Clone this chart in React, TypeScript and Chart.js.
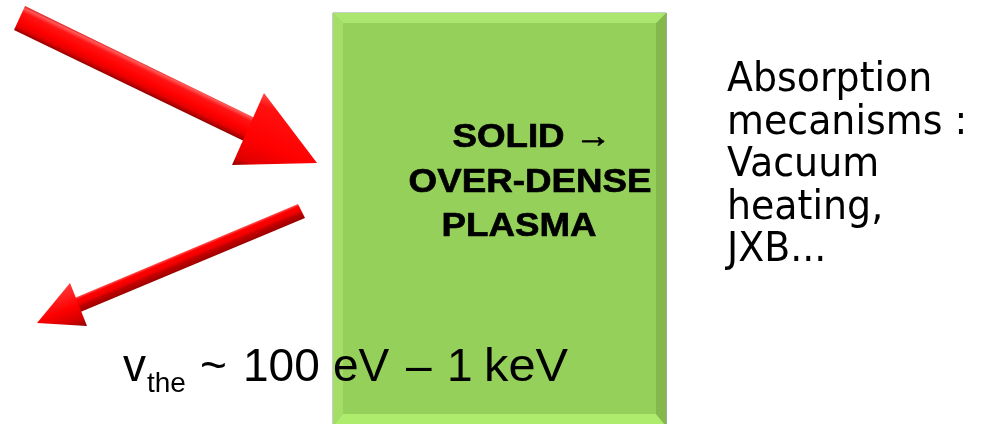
import React, { useEffect, useRef } from "react";
import { Chart, registerables } from "chart.js";

Chart.register(...registerables);

// ---- Data (diagram coordinates in a 983 x 424 value space) ----
const boxFace: number[][] = [[333, 13], [666, 13], [666, 426], [333, 426]];
const boxTopBevel: number[][] = [[333, 13], [666, 13], [656, 23], [343, 23]];
const boxLeftBevel: number[][] = [[333, 13], [343, 23], [343, 414], [333, 426]];
const boxRightBevel: number[][] = [[666, 13], [666, 426], [656, 414], [656, 23]];
const boxBottomBevel: number[][] = [[333, 426], [343, 414], [656, 414], [666, 426]];

const incidentShaft: number[][] = [[25, 6], [259, 120], [248, 143], [14, 30]];
const incidentHead: number[][] = [[264, 93], [317, 163], [232, 165]];
const reflectedShaft: number[][] = [[298, 204], [71, 299.6], [76.8, 313.4], [305, 218]];
const reflectedHead: number[][] = [[70, 283], [37, 323], [87, 326]];

const boxLines: string[] = ["SOLID \u2192", "OVER-DENSE", "PLASMA"];
const sideLines: string[] = ["Absorption", "mecanisms :", "Vacuum", "heating,", "JXB..."];
const energySymbol = "v";
const energySub = "the";
const energyTokens: string[] = ["~", "100", "eV", "\u2013", "1", "keV"];

type Stop = [number, string];

function gradient(chart: any, p0: number[], p1: number[], stops: Stop[], fallback: string) {
  const xs = chart.scales?.x;
  const ys = chart.scales?.y;
  if (!chart.chartArea || !xs || !ys) return fallback;
  const g = chart.ctx.createLinearGradient(
    xs.getPixelForValue(p0[0]), ys.getPixelForValue(p0[1]),
    xs.getPixelForValue(p1[0]), ys.getPixelForValue(p1[1])
  );
  stops.forEach(([o, c]) => g.addColorStop(o, c));
  return g;
}

function poly(pts: number[][], bg: any, border = "rgba(0,0,0,0)", bw = 0) {
  return {
    type: "line" as const,
    data: [...pts, pts[0]].map(([x, y]) => ({ x, y })),
    fill: "shape",
    backgroundColor: bg,
    borderColor: border,
    borderWidth: bw,
    pointRadius: 0,
    pointHoverRadius: 0,
    tension: 0,
  };
}

const textPlugin = {
  id: "diagramText",
  afterDatasetsDraw(chart: any) {
    const { ctx } = chart;
    const xs = chart.scales.x;
    const ys = chart.scales.y;
    const px = (v: number) => xs.getPixelForValue(v);
    const py = (v: number) => ys.getPixelForValue(v);
    const put = (text: string, x: number, y: number, font: string, sx: number, align: CanvasTextAlign, stroke = 0) => {
      ctx.save();
      ctx.font = font;
      ctx.fillStyle = "#000";
      ctx.strokeStyle = "#000";
      ctx.textAlign = align;
      ctx.textBaseline = "alphabetic";
      ctx.translate(px(x), py(y));
      ctx.scale(sx, 1);
      ctx.fillText(text, 0, 0);
      if (stroke > 0) {
        ctx.lineWidth = stroke;
        ctx.lineJoin = "round";
        ctx.strokeText(text, 0, 0);
      }
      ctx.restore();
    };
    // box label
    const boxCenters = [532, 530, 519];
    boxLines.forEach((t, i) =>
      put(t, boxCenters[i], 147 + i * 44.5, 'bold 34px "Liberation Sans", Arial, sans-serif', 1.08, "center", 0.7)
    );
    // side text
    sideLines.forEach((t, i) =>
      put(t, 727, 91 + i * 42.6, '41px "DejaVu Sans", sans-serif', 0.925, "left")
    );
    // energy text
    const ef = '46px "Liberation Sans", Arial, sans-serif';
    put(energySymbol, 123, 381, ef, 1, "left");
    put(energySub, 147, 392, '28px "Liberation Sans", Arial, sans-serif', 1, "left");
    const tokenX = [200, 243, 333, 406, 447, 484];
    const tokenSx = [1, 1, 1, 1, 1, 1.06];
    energyTokens.forEach((t, i) => put(t, tokenX[i], 381, ef, tokenSx[i], "left"));
  },
};

export default function App() {
  const ref = useRef<HTMLCanvasElement | null>(null);

  useEffect(() => {
    if (!ref.current) return;
    const datasets: any[] = [
      // top-most first
      poly(incidentHead, (c: any) =>
        gradient(c.chart, [264, 93], [232, 165], [[0, "#ff4a4a"], [0.15, "#ff1010"], [0.6, "#ff0000"], [0.88, "#e00000"], [1, "#8c0000"]], "#ff0000")
      ),
      poly(incidentShaft, (c: any) =>
        gradient(c.chart, [25.5, 6], [14, 30], [[0, "#d81818"], [0.1, "#ff5a5a"], [0.25, "#ff1414"], [0.6, "#ff0000"], [0.82, "#e60000"], [1, "#9a0000"]], "#ff0000")
      ),
      poly(reflectedHead, (c: any) =>
        gradient(c.chart, [70, 283], [87, 326], [[0, "#ff3a3a"], [0.5, "#ff0000"], [0.8, "#d40000"], [1, "#8a0000"]], "#ff0000")
      ),
      poly(reflectedShaft, (c: any) =>
        gradient(c.chart, [298.6, 204.1], [304.4, 217.9], [[0, "#ff4a4a"], [0.15, "#ff0000"], [0.45, "#f00000"], [0.6, "#c40000"], [1, "#9c0000"]], "#ff0000")
      ),
      poly(boxTopBevel, "#abe670"),
      poly(boxLeftBevel, "#a4de68"),
      poly(boxRightBevel, "#84b84c"),
      poly(boxBottomBevel, "#aeec6e"),
      poly(boxFace, "#95d05a", "#8f9e80", 1),
    ];
    const chart = new Chart(ref.current, {
      type: "line",
      data: { datasets },
      options: {
        animation: false,
        responsive: false,
        maintainAspectRatio: false,
        devicePixelRatio: 1,
        layout: { padding: 0 },
        events: [],
        plugins: { legend: { display: false }, tooltip: { enabled: false } },
        scales: {
          x: { type: "linear", min: 0, max: 983, display: false },
          y: { type: "linear", min: 0, max: 424, reverse: true, display: false },
        },
      },
      plugins: [textPlugin],
    } as any);
    return () => chart.destroy();
  }, []);

  return (
    <div style={{ position: "fixed", left: 0, top: 0, width: 983, height: 424, background: "#fff" }}>
      <canvas ref={ref} width={983} height={424} style={{ display: "block", width: 983, height: 424 }} />
    </div>
  );
}
